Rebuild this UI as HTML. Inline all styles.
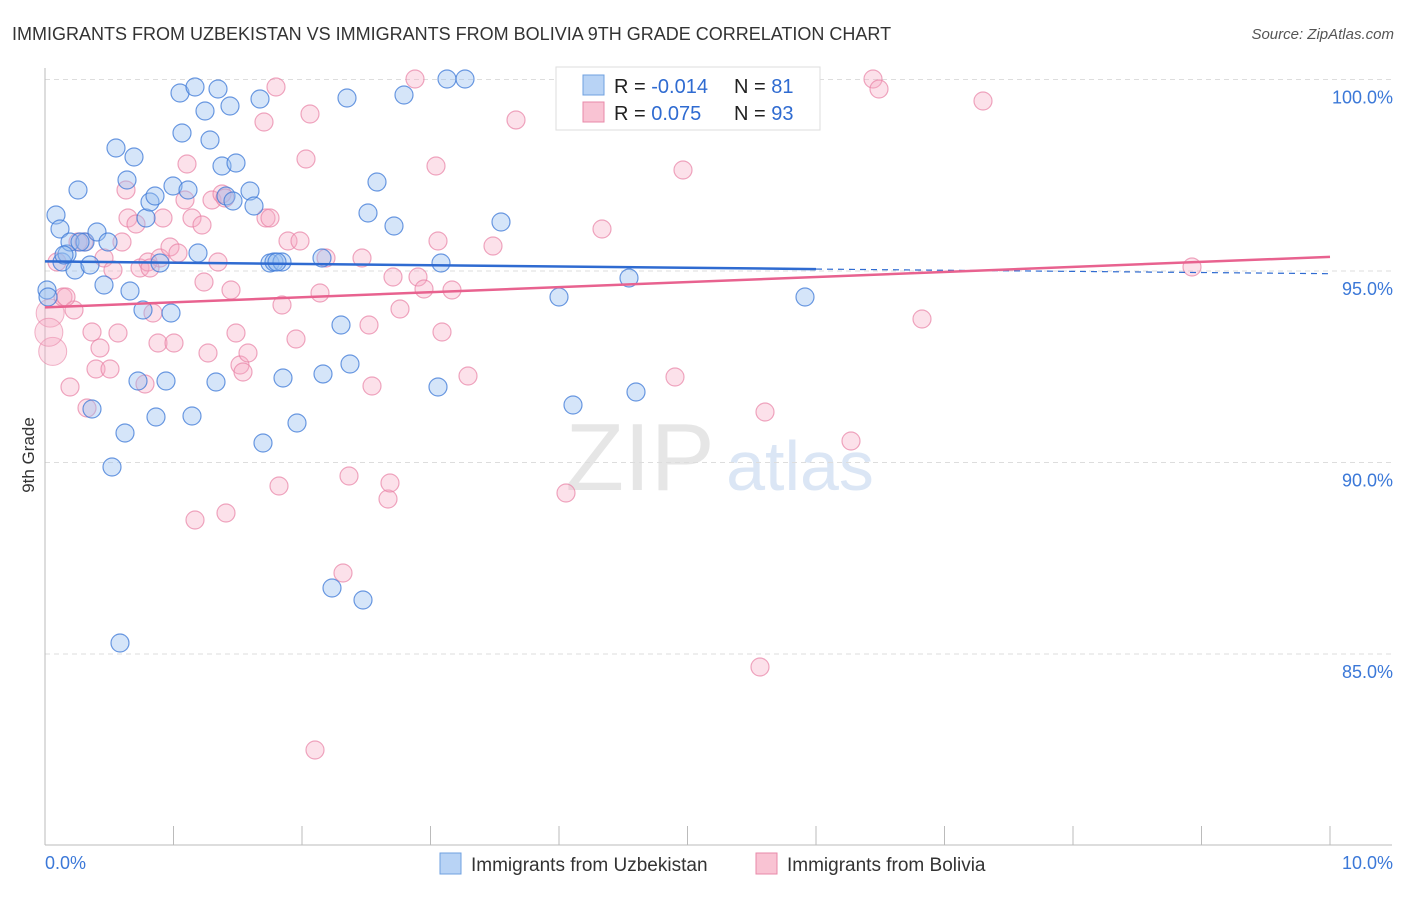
<!DOCTYPE html>
<html><head><meta charset="utf-8"><style>
body{margin:0;background:#fff;font-family:"Liberation Sans",sans-serif;}
svg text{font-family:"Liberation Sans",sans-serif;}
</style></head><body>
<svg id="chart" width="1406" height="892">
<text x="12" y="40" font-size="18" fill="#333">IMMIGRANTS FROM UZBEKISTAN VS IMMIGRANTS FROM BOLIVIA 9TH GRADE CORRELATION CHART</text>
<text x="1394" y="39" font-size="15" fill="#555" font-style="italic" text-anchor="end">Source: ZipAtlas.com</text>
<text x="34" y="455" font-size="17" fill="#333" transform="rotate(-90 34 455)" text-anchor="middle">9th Grade</text>
<text x="640" y="490" font-size="96" fill="#e6e6e6" font-family="Liberation Serif" text-anchor="middle">ZIP</text>
<text x="800" y="490" font-size="70" fill="#dbe6f5" text-anchor="middle">atlas</text>
<g id="grid"></g><g id="axes"></g><g id="pts"></g><g id="trend"></g>
<g>
<rect x="556" y="67" width="264" height="63" fill="#fff" stroke="#ddd"/>
<rect x="583" y="75" width="21" height="20" fill="#b8d3f5" stroke="#6fa0e0"/>
<rect x="583" y="102" width="21" height="20" fill="#f9c3d3" stroke="#e88aa8"/>
<text x="614" y="93" font-size="20" fill="#222">R = <tspan fill="#2f6bd1">-0.014</tspan></text>
<text x="734" y="93" font-size="20" fill="#222">N = <tspan fill="#2f6bd1"> 81</tspan></text>
<text x="614" y="120" font-size="20" fill="#222">R = <tspan fill="#2f6bd1">  0.075</tspan></text>
<text x="734" y="120" font-size="20" fill="#222">N = <tspan fill="#2f6bd1">93</tspan></text>
</g>
<g>
<rect x="440" y="853" width="21" height="21" fill="#b8d3f5" stroke="#6fa0e0"/>
<text x="471" y="871" font-size="19" fill="#333">Immigrants from Uzbekistan</text>
<rect x="756" y="853" width="21" height="21" fill="#f9c3d3" stroke="#e88aa8"/>
<text x="787" y="871" font-size="19" fill="#333">Immigrants from Bolivia</text>
</g>
</svg>
<script>
const yTicks=[100,95,90,85];
const yTickLabels=["100.0%","95.0%","90.0%","85.0%"];
const xTickLabels=["0.0%","10.0%"];
const bluePx=[[47,290],[48,297],[56,215],[60,229],[62,262],[67,254],[70,242],[75,270],[78,190],[85,242],[90,265],[92,409],[97,232],[104,285],[108,242],[112,467],[116,148],[125,433],[127,180],[130,291],[134,157],[138,381],[143,310],[146,218],[150,202],[155,196],[156,417],[160,263],[166,381],[171,313],[173,186],[180,93],[182,133],[188,190],[192,416],[195,87],[198,253],[205,111],[210,140],[216,382],[218,89],[222,166],[226,196],[230,106],[233,201],[236,163],[250,191],[254,206],[260,99],[263,443],[270,263],[274,262],[283,378],[282,262],[297,423],[322,258],[323,374],[332,588],[341,325],[347,98],[350,364],[363,600],[368,213],[377,182],[394,226],[404,95],[438,387],[441,263],[447,79],[465,79],[501,222],[559,297],[573,405],[629,278],[636,392],[805,297],[120,643],[566,79],[80,242],[64,255],[277,262]];
const pinkPx=[[57,262],[63,297],[70,387],[74,310],[78,242],[87,408],[92,332],[96,369],[100,348],[104,258],[110,369],[113,270],[118,333],[122,242],[126,190],[128,218],[136,224],[140,268],[145,384],[148,262],[153,313],[158,343],[160,258],[163,218],[170,247],[174,343],[178,253],[185,200],[187,164],[192,218],[195,520],[202,225],[204,282],[208,353],[212,200],[218,262],[222,194],[226,513],[231,290],[236,333],[240,365],[243,372],[248,353],[264,122],[266,218],[270,218],[276,87],[279,486],[282,305],[288,241],[296,339],[306,159],[310,114],[315,750],[320,293],[326,258],[343,573],[349,476],[362,258],[369,325],[372,386],[388,499],[390,483],[393,277],[400,309],[415,79],[418,277],[424,289],[436,166],[438,241],[442,332],[452,290],[468,376],[493,246],[516,120],[566,493],[602,229],[683,170],[675,377],[760,667],[765,412],[851,441],[873,79],[879,89],[922,319],[983,101],[1192,267],[84,242],[66,297],[150,268],[225,198],[571,79],[300,241]];
// convert reference readings to data values (x in %, y in %)
const blueX=bluePx.map(p=>(p[0]-45)/128.5), blueY=bluePx.map(p=>100-(p[1]-79.5)/38.3);
const pinkX=pinkPx.map(p=>(p[0]-45)/128.5), pinkY=pinkPx.map(p=>100-(p[1]-79.5)/38.3);
const bigPinkX=[0.04,0.06,0.03], bigPinkY=[93.9,92.9,93.4];
const blueTrend=[95.25,95.05,94.93], pinkTrend=[94.05,95.37];
const X=v=>45+v*128.5, Y=v=>79.5+(100-v)*38.3;
const NS="http://www.w3.org/2000/svg";
function mk(tag,at,par){const e=document.createElementNS(NS,tag);for(const k in at)e.setAttribute(k,at[k]);document.getElementById(par).appendChild(e);return e;}
yTicks.forEach((t,i)=>{
 const l=mk('line',{x1:45,x2:1392,y1:Y(t),y2:Y(t),stroke:'#ddd','stroke-dasharray':'5,4'},'grid');
 
 
 const tx=mk('text',{x:1393,y:Y(t)+24,'font-size':18,fill:'#3b78d8','text-anchor':'end'},'grid');
 tx.textContent=yTickLabels[i];
 
 
});
let a=mk('line',{x1:45,x2:45,y1:68,y2:845,stroke:'#bbb'},'axes');


a=mk('line',{x1:45,x2:1392,y1:845,y2:845,stroke:'#bbb'},'axes');


for(let i=0;i<=10;i++){const t=mk('line',{x1:X(i),x2:X(i),y1:826,y2:845,stroke:'#bbb'},'axes');
 
 }
[[0,'start',45],[1,'end',1393]].forEach(([i,anc,x])=>{const t=mk('text',{x:x,y:869,'font-size':18,fill:'#3b78d8','text-anchor':anc},'axes');t.textContent=xTickLabels[i];
 
 });
bigPinkX.forEach((v,i)=>{const c=mk('circle',{cx:X(v),cy:Y(bigPinkY[i]),r:14,fill:'rgba(246,170,195,0.35)',stroke:'rgba(232,130,165,0.6)'},'pts');
 
 });
pinkX.forEach((v,i)=>{const c=mk('circle',{cx:X(v),cy:Y(pinkY[i]),r:9,fill:'rgba(246,170,195,0.35)',stroke:'rgba(232,130,165,0.7)','stroke-width':1.2},'pts');
 
 });
blueX.forEach((v,i)=>{const c=mk('circle',{cx:X(v),cy:Y(blueY[i]),r:9,fill:'rgba(150,190,240,0.4)',stroke:'rgba(60,120,215,0.75)','stroke-width':1.2},'pts');
 
 });
let t=mk('line',{x1:X(0),y1:Y(blueTrend[0]),x2:X(6),y2:Y(blueTrend[1]),stroke:'#2f6bd1','stroke-width':2.5},'trend');


t=mk('line',{x1:X(6),y1:Y(blueTrend[1]),x2:X(10),y2:Y(blueTrend[2]),stroke:'#2f6bd1','stroke-width':1.2,'stroke-dasharray':'6,5'},'trend');


t=mk('line',{x1:X(0),y1:Y(pinkTrend[0]),x2:X(10),y2:Y(pinkTrend[1]),stroke:'#e8628f','stroke-width':2.5},'trend');


</script>
</body></html>
